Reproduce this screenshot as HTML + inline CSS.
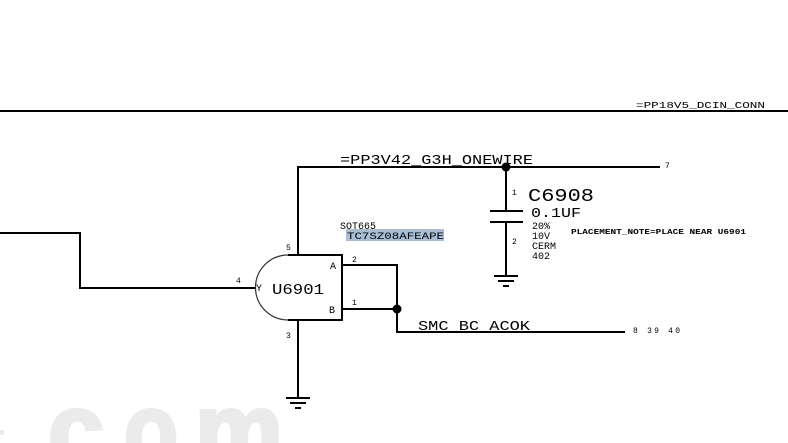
<!DOCTYPE html>
<html><head><meta charset="utf-8"><style>
html,body{margin:0;padding:0;background:#fff;overflow:hidden;width:788px;height:443px}
svg{display:block}
text{font-family:"Liberation Mono","DejaVu Sans Mono",monospace;fill:#000}
.w{font-family:"Liberation Sans",sans-serif;font-weight:bold;font-size:104px;fill:#ebebeb;stroke:#ebebeb;stroke-width:4}
</style></head><body>
<svg width="788" height="443" viewBox="0 0 788 443" xmlns="http://www.w3.org/2000/svg">
<defs><clipPath id="cp"><rect x="0" y="0" width="788" height="443"/></clipPath></defs>
<g clip-path="url(#cp)">
<text class="w" x="48" y="466" textLength="56" lengthAdjust="spacingAndGlyphs">c</text>
<text class="w" x="124" y="466" textLength="54" lengthAdjust="spacingAndGlyphs">o</text>
<text class="w" x="195" y="466" textLength="88" lengthAdjust="spacingAndGlyphs">m</text>
</g>
<rect x="0" y="430" width="4" height="5" fill="#ebebeb"/>
<g stroke="#000" stroke-width="2" fill="none">
<line x1="0" y1="111" x2="788" y2="111"/>
<line x1="297" y1="167" x2="660" y2="167"/>
<line x1="298" y1="167" x2="298" y2="255"/>
<line x1="0" y1="233" x2="80" y2="233"/>
<line x1="80" y1="232" x2="80" y2="289"/>
<line x1="79" y1="288" x2="256" y2="288"/>
<path d="M288 255 H342 V320 H288"/>
<line x1="342" y1="265" x2="397" y2="265"/>
<line x1="397" y1="264" x2="397" y2="333"/>
<line x1="342" y1="309" x2="397" y2="309"/>
<line x1="396" y1="332" x2="625" y2="332"/>
<line x1="298" y1="320" x2="298" y2="398"/>
<line x1="286" y1="398" x2="310" y2="398"/>
<line x1="290" y1="403" x2="306" y2="403"/>
<line x1="295" y1="408" x2="301" y2="408"/>
<line x1="506" y1="167" x2="506" y2="211"/>
<line x1="490" y1="211" x2="523" y2="211"/>
<line x1="490" y1="222" x2="523" y2="222"/>
<line x1="506" y1="222" x2="506" y2="276"/>
<line x1="494" y1="276" x2="518" y2="276"/>
<line x1="498" y1="281" x2="514" y2="281"/>
<line x1="503" y1="286" x2="509" y2="286"/>
</g>
<path d="M288 255 A32 32 0 0 0 288 320" stroke="#333" stroke-width="1.2" fill="none"/>
<circle cx="506" cy="167" r="4.5" fill="#000"/>
<circle cx="397" cy="309" r="4.5" fill="#000"/>
<rect x="346" y="229" width="98" height="12" fill="#a6bfd6"/>
<text x="636" y="108" font-size="9" textLength="129" lengthAdjust="spacingAndGlyphs">=PP18V5_DCIN_CONN</text>
<text x="340" y="164" font-size="13.5" textLength="193" lengthAdjust="spacingAndGlyphs">=PP3V42_G3H_ONEWIRE</text>
<text x="665" y="168" font-size="8">7</text>
<text x="340" y="229" font-size="10">SOT665</text>
<text x="347" y="239" font-size="10" textLength="97" lengthAdjust="spacingAndGlyphs">TC7SZ08AFEAPE</text>
<text x="286" y="250" font-size="8">5</text>
<text x="236" y="283" font-size="8">4</text>
<text x="286" y="338" font-size="8">3</text>
<text x="352" y="262" font-size="8">2</text>
<text x="352" y="305" font-size="8">1</text>
<text x="330" y="269" font-size="10">A</text>
<text x="329" y="313" font-size="10">B</text>
<text x="256" y="291" font-size="10">Y</text>
<text x="272" y="294" font-size="15" textLength="52" lengthAdjust="spacingAndGlyphs">U6901</text>
<text x="418" y="330" font-size="13.5" textLength="112" lengthAdjust="spacingAndGlyphs">SMC_BC_ACOK</text>
<text x="633" y="333" font-size="8" textLength="47" lengthAdjust="spacing">8 39 40</text>
<text x="512" y="195" font-size="8">1</text>
<text x="512" y="244" font-size="8">2</text>
<text x="528" y="201" font-size="18" textLength="66" lengthAdjust="spacingAndGlyphs">C6908</text>
<text x="531" y="217" font-size="13.5" textLength="50" lengthAdjust="spacingAndGlyphs">0.1UF</text>
<text x="532" y="229" font-size="10">20%</text>
<text x="532" y="239" font-size="10">10V</text>
<text x="532" y="249" font-size="10">CERM</text>
<text x="532" y="259" font-size="10">402</text>
<text x="571" y="234" font-size="7.5" font-weight="bold" textLength="175" lengthAdjust="spacingAndGlyphs">PLACEMENT_NOTE=PLACE NEAR U6901</text>
</svg>
</body></html>
